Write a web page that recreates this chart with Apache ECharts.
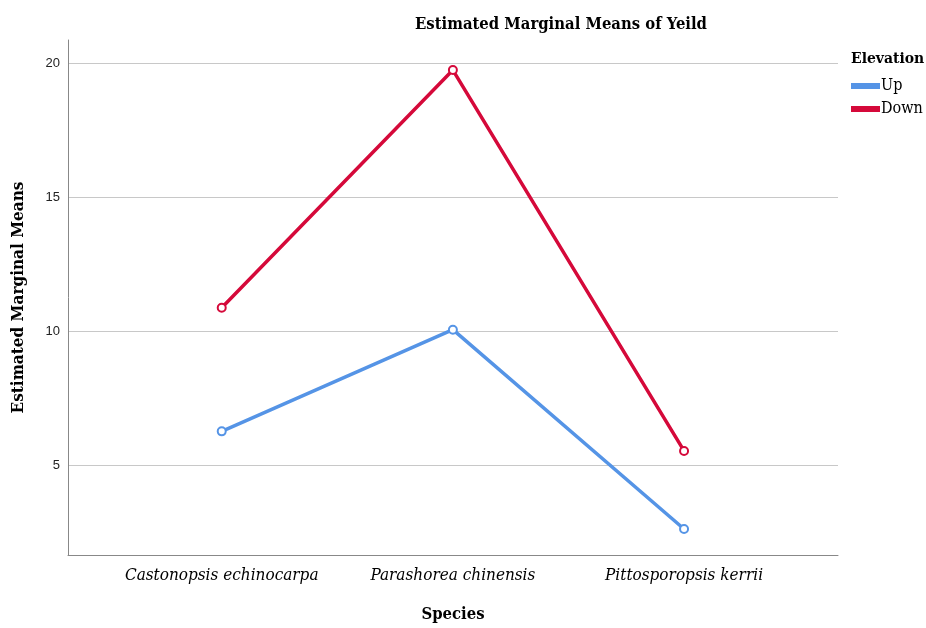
<!DOCTYPE html>
<html>
<head>
<meta charset="utf-8">
<script src="https://cdn.jsdelivr.net/npm/echarts@6/dist/echarts.min.js"></script>
<style>html,body{margin:0;padding:0;background:#fff;}#c{width:926px;height:628px;}</style>
</head>
<body>
<div id="c"></div>
<script>
var categories = ['Castonopsis echinocarpa', 'Parashorea chinensis', 'Pittosporopsis kerrii'];
var seriesNames = ['Up', 'Down'];
var upValues = [6.27, 10.06, 2.63];
var downValues = [10.88, 19.74, 5.54];
var yTicks = [5, 10, 15, 20];
var titleText = 'Estimated Marginal Means of Yeild';
var yAxisName = 'Estimated Marginal Means';
var xAxisName = 'Species';
var legendTitle = 'Elevation';

var colors = ['#5594e6', '#d5093a'];
var serif = '"DejaVu Serif Condensed", "DejaVu Serif", serif';

function pairs(vals) { return vals.map(function (v, i) { return [i, v]; }); }

var chart = echarts.init(document.getElementById('c'), null, { renderer: 'canvas' });
chart.setOption({
  animation: false,
  backgroundColor: '#ffffff',
  title: [
    { text: titleText, left: 556, top: 11, textAlign: 'center',
      textStyle: { fontFamily: serif, fontWeight: 'bold', fontSize: 16.5, color: '#000' } },
    { text: legendTitle, left: 846, top: 46,
      textStyle: { fontFamily: serif, fontWeight: 'bold', fontSize: 15.5, color: '#000' } }
  ],
  legend: {
    orient: 'vertical', left: 846, top: 73, itemGap: 7,
    itemWidth: 27, itemHeight: 4, icon: 'rect',
    data: seriesNames,
    textStyle: { fontFamily: serif, fontSize: 16, color: '#000', padding: [0, 0, 0, -3] }
  },
  grid: { left: 68, right: 88, top: 40, bottom: 66, containLabel: false },
  xAxis: {
    type: 'value', min: -0.665, max: 2.666,
    name: xAxisName, nameLocation: 'middle', nameGap: 51,
    nameTextStyle: { fontFamily: serif, fontWeight: 'bold', fontSize: 16.5, color: '#000' },
    axisLine: { show: true, onZero: false, lineStyle: { color: '#888', width: 1 } },
    axisTick: { show: false, customValues: [0, 1, 2] },
    splitLine: { show: false },
    axisLabel: {
      customValues: [0, 1, 2], margin: 12,
      formatter: function (v) { return categories[Math.round(v)] || ''; },
      fontFamily: serif, fontStyle: 'italic', fontSize: 17, color: '#000'
    }
  },
  yAxis: {
    type: 'value', min: 1.66, max: 20.86,
    name: yAxisName, nameLocation: 'middle', nameGap: 41,
    nameTextStyle: { fontFamily: serif, fontWeight: 'bold', fontSize: 17, color: '#000' },
    axisLine: { show: true, onZero: false, lineStyle: { color: '#888', width: 1 } },
    axisTick: { show: false, customValues: yTicks },
    splitLine: { show: true, lineStyle: { color: '#c8c8c8', width: 1 } },
    axisLabel: {
      customValues: yTicks, margin: 8,
      fontFamily: '"Liberation Sans", Arial, sans-serif', fontSize: 13, color: '#222'
    }
  },
  series: [
    { name: seriesNames[0], type: 'line', data: pairs(upValues), color: colors[0],
      symbol: 'emptyCircle', symbolSize: 8,
      lineStyle: { width: 3.5, color: colors[0] },
      itemStyle: { color: colors[0], borderColor: colors[0], borderWidth: 1.5 } },
    { name: seriesNames[1], type: 'line', data: pairs(downValues), color: colors[1],
      symbol: 'emptyCircle', symbolSize: 8,
      lineStyle: { width: 3.5, color: colors[1] },
      itemStyle: { color: colors[1], borderColor: colors[1], borderWidth: 1.5 } }
  ]
});
</script>
</body>
</html>
